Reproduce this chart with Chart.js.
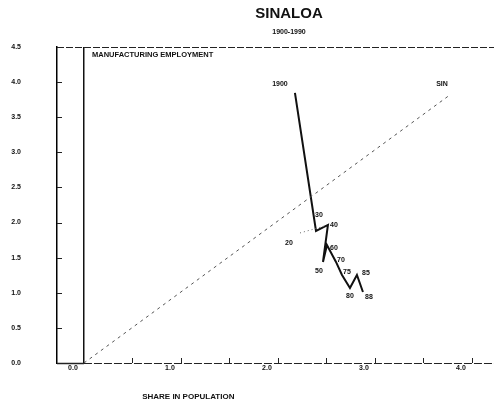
<!DOCTYPE html>
<html><head><meta charset="utf-8">
<script src="https://cdn.jsdelivr.net/npm/chart.js@4"></script>
<style>html,body{margin:0;padding:0;background:#fff}#wrap{width:494px;height:405px}</style>
</head><body><div id="wrap"><canvas id="c" width="494" height="405"></canvas></div>
<script>
// ---- data ----
const chartTitle = 'SINALOA';
const chartSubtitle = '1900-1990';
const yAxisTitle = 'MANUFACTURING EMPLOYMENT';
const xAxisTitle = 'SHARE IN POPULATION';
const years = ['1900', '30', '40', '50', '60', '70', '75', '80', '85', '88'];
const shareInPopulation = [2.175, 2.392, 2.515, 2.464, 2.505, 2.598, 2.660, 2.742, 2.814, 2.876];
const shareInEmployment = [3.846, 1.880, 1.966, 1.439, 1.681, 1.439, 1.254, 1.068, 1.254, 1.011];
const diagonalLabel = 'SIN';
const diagonalX = [0, 3.773];
const diagonalY = [0, 3.818];
const refLabel = '20';
const refX = [2.227, 2.485];
const refY = [1.852, 1.952];
const xTickValues = [0, 0.5, 1, 1.5, 2, 2.5, 3, 3.5, 4];
const yTickValues = [0, 0.5, 1, 1.5, 2, 2.5, 3, 3.5, 4, 4.5];

// ---- styling (label offsets in px relative to their points) ----
const yearLabelOffsets = [[-15,-9],[3,-16],[6,0],[-4,9],[7,3],[5,-2],[5,-3],[0,8],[9,-2],[6,5]];
const diagLabelOffset = [-8,-11];
const refLabelOffset = [-11,10];
const labelFont = "bold 7px 'Liberation Sans Narrow', 'Liberation Sans', sans-serif";

const xy = (xs, ys) => xs.map((x, i) => ({x, y: ys[i]}));

const overlay = {
  id: 'overlay',
  afterDraw(chart) {
    const {ctx, chartArea: a, scales: {x, y}} = chart;
    ctx.save();
    ctx.fillStyle = '#111';
    ctx.textBaseline = 'middle';
    // titles
    ctx.textAlign = 'center';
    ctx.font = "bold 15px 'Liberation Sans', sans-serif";
    ctx.fillText(chartTitle, 289, 14);
    ctx.font = "bold 7px 'Liberation Sans', sans-serif";
    ctx.fillText(chartSubtitle, 289, 32);
    // top frame (dashed)
    ctx.strokeStyle = '#222';
    ctx.lineWidth = 1;
    ctx.setLineDash([7, 2]);
    ctx.beginPath();
    ctx.moveTo(a.left, a.top + 0.5);
    ctx.lineTo(a.right, a.top + 0.5);
    ctx.stroke();
    // bottom axis: solid up to x=0, dashed beyond
    const x0 = x.getPixelForValue(0);
    const by = Math.round(a.bottom) + 0.5;
    ctx.setLineDash([8, 2]);
    ctx.beginPath(); ctx.moveTo(x0, by); ctx.lineTo(a.right, by); ctx.stroke();
    ctx.setLineDash([]);
    ctx.lineWidth = 1.5;
    ctx.beginPath(); ctx.moveTo(a.left, by); ctx.lineTo(x0, by); ctx.stroke();
    // inner tick marks
    ctx.lineWidth = 1;
    xTickValues.forEach(v => {
      if (v === 0) return;
      const px = Math.round(x.getPixelForValue(v)) + 0.5;
      ctx.beginPath(); ctx.moveTo(px, a.bottom); ctx.lineTo(px, a.bottom - 5); ctx.stroke();
    });
    yTickValues.forEach(v => {
      if (v === 0 || v === 4.5) return;
      const py = Math.round(y.getPixelForValue(v)) + 0.5;
      ctx.beginPath(); ctx.moveTo(a.left, py); ctx.lineTo(a.left + 5, py); ctx.stroke();
    });
    // axis titles
    ctx.textAlign = 'left';
    ctx.font = "bold 7.5px 'Liberation Sans Narrow', 'Liberation Sans', sans-serif";
    ctx.fillText(yAxisTitle, x0 + 8, y.getPixelForValue(4.5) + 8);
    ctx.font = "bold 8px 'Liberation Sans Narrow', 'Liberation Sans', sans-serif";
    ctx.fillText(xAxisTitle, x.getPixelForValue(0.6), a.bottom + 34);
    // point labels
    ctx.textAlign = 'center';
    ctx.font = labelFont;
    years.forEach((t, i) => {
      const px = x.getPixelForValue(shareInPopulation[i]) + yearLabelOffsets[i][0];
      const py = y.getPixelForValue(shareInEmployment[i]) + yearLabelOffsets[i][1];
      ctx.fillText(t, px, py);
    });
    ctx.fillText(diagonalLabel, x.getPixelForValue(diagonalX[1]) + diagLabelOffset[0], y.getPixelForValue(diagonalY[1]) + diagLabelOffset[1]);
    ctx.fillText(refLabel, x.getPixelForValue(refX[0]) + refLabelOffset[0], y.getPixelForValue(refY[0]) + refLabelOffset[1]);
    ctx.restore();
  }
};

new Chart(document.getElementById('c'), {
  type: 'scatter',
  data: {
    datasets: [
      {data: xy(diagonalX, diagonalY), showLine: true, borderColor: '#555', borderWidth: 1, borderDash: [3, 4], pointRadius: 0},
      {data: xy(refX, refY), showLine: true, borderColor: '#666', borderWidth: 1, borderDash: [1, 3], pointRadius: 0},
      {data: xy(shareInPopulation, shareInEmployment), showLine: true, borderColor: '#111', borderWidth: 2, pointRadius: 0, tension: 0}
    ]
  },
  options: {
    responsive: false,
    animation: false,
    devicePixelRatio: 1,
    layout: {padding: {top: 47, right: 0, bottom: 0, left: 0}},
    plugins: {legend: {display: false}, tooltip: {enabled: false}, title: {display: false}},
    scales: {
      x: {
        type: 'linear', min: -0.278, max: 4.227,
        afterBuildTicks: s => { s.ticks = xTickValues.map(v => ({value: v})); },
        afterFit: s => { s.height = 42; },
        ticks: {
          callback: v => Math.abs(v - Math.round(v)) < 1e-9 ? v.toFixed(1) : '',
          font: {family: "'Liberation Sans Narrow', 'Liberation Sans', sans-serif", size: 7, weight: 'bold'},
          color: '#111', padding: 1, labelOffset: -11, maxRotation: 0, autoSkip: false
        },
        grid: {
          drawTicks: false,
          color: c => (c.tick && c.tick.value === 0) ? '#111' : 'rgba(0,0,0,0)',
          lineWidth: c => (c.tick && c.tick.value === 0) ? 1.5 : 0
        },
        border: {display: false}
      },
      y: {
        type: 'linear', min: 0, max: 4.5,
        afterBuildTicks: s => { s.ticks = yTickValues.map(v => ({value: v})); },
        afterFit: s => { s.width = 57; },
        ticks: {
          callback: v => v.toFixed(1),
          font: {family: "'Liberation Sans Narrow', 'Liberation Sans', sans-serif", size: 7, weight: 'bold'},
          color: '#111', padding: 36
        },
        grid: {drawOnChartArea: false, drawTicks: false},
        border: {display: true, color: '#000', width: 1.5}
      }
    }
  },
  plugins: [overlay]
});
</script>
</body></html>
